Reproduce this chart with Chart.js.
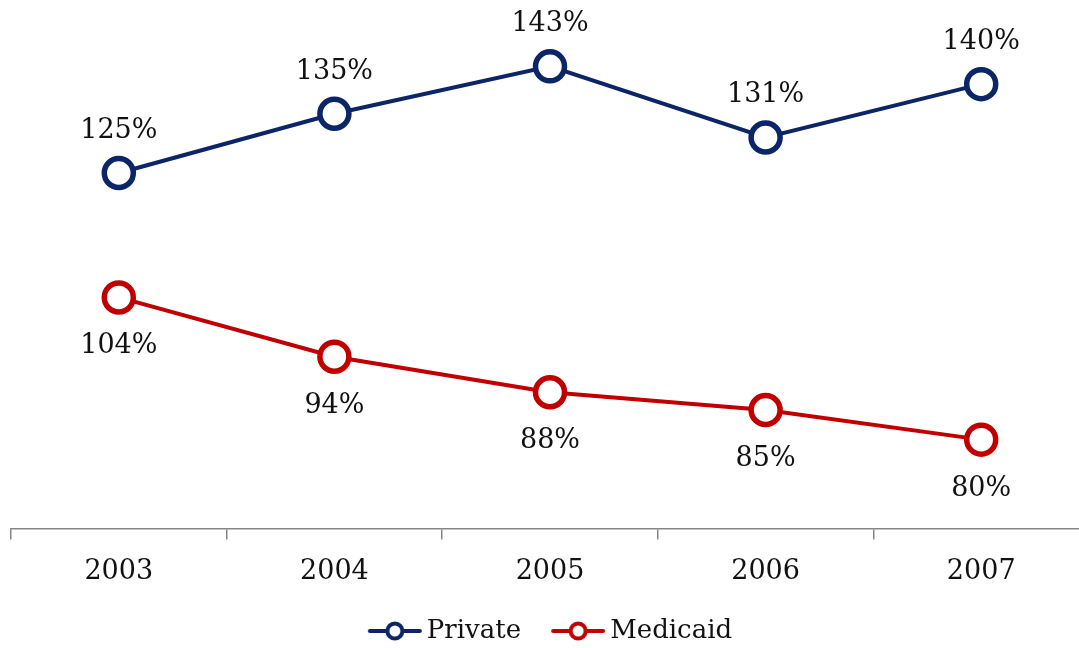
<!DOCTYPE html>
<html>
<head>
<meta charset="utf-8">
<script src="https://cdn.jsdelivr.net/npm/chart.js@4"></script>
<style>
html,body{margin:0;padding:0;background:#fff;overflow:hidden;}
#wrap{position:relative;width:1100px;height:648px;}
</style>
</head>
<body>
<div id="wrap"><canvas id="c" width="1100" height="648"></canvas></div>
<script>
const categories = ['2003', '2004', '2005', '2006', '2007'];
const privateValues = [125, 135, 143, 131, 140];
const medicaidValues = [104, 94, 88, 85, 80];
const seriesNames = ['Private', 'Medicaid'];

const NAVY = '#0b2566';
const RED = '#c00000';
const FONT = '"DejaVu Serif", serif';

function legendImage(color) {
  const c = document.createElement('canvas');
  c.width = 64; c.height = 26;
  const g = c.getContext('2d');
  g.strokeStyle = color;
  g.lineWidth = 4;
  g.lineCap = 'round';
  g.beginPath(); g.moveTo(11, 13); g.lineTo(61, 13); g.stroke();
  g.beginPath(); g.arc(36, 13, 7.5, 0, Math.PI * 2);
  g.fillStyle = '#fff'; g.fill();
  g.lineWidth = 4; g.stroke();
  return c;
}
const legendImgs = [legendImage(NAVY), legendImage(RED)];

const labelPlugin = {
  id: 'valueLabels',
  afterDatasetsDraw(chart) {
    const ctx = chart.ctx;
    ctx.save();
    ctx.font = '27px ' + FONT;
    ctx.fillStyle = '#111';
    ctx.textAlign = 'center';
    ctx.textBaseline = 'middle';
    chart.data.datasets.forEach((ds, i) => {
      const meta = chart.getDatasetMeta(i);
      meta.data.forEach((pt, j) => {
        const off = i === 0 ? -42 : 49;
        ctx.fillText(ds.data[j] + '%', pt.x, pt.y + off);
      });
    });
    ctx.restore();
  }
};

new Chart(document.getElementById('c'), {
  type: 'line',
  data: {
    labels: categories,
    datasets: [
      {
        label: seriesNames[0], data: privateValues,
        borderColor: NAVY, borderWidth: 4,
        pointBackgroundColor: '#fff', pointBorderColor: NAVY,
        pointBorderWidth: 5.5, pointRadius: 14.5, pointHoverRadius: 14.5,
        tension: 0
      },
      {
        label: seriesNames[1], data: medicaidValues,
        borderColor: RED, borderWidth: 4,
        pointBackgroundColor: '#fff', pointBorderColor: RED,
        pointBorderWidth: 5.5, pointRadius: 14.5, pointHoverRadius: 14.5,
        tension: 0
      }
    ]
  },
  options: {
    responsive: false,
    animation: false,
    events: [],
    layout: { autoPadding: false, padding: { left: 11, right: 11, top: 0, bottom: -6 } },
    scales: {
      x: {
        offset: true,
        grid: { offset: true, drawOnChartArea: false, tickLength: 11, color: '#868686', lineWidth: 1.5 },
        border: { color: '#868686', width: 1.5 },
        ticks: { color: '#111', font: { family: FONT, size: 27 }, padding: 16 },
        afterFit(scale) { scale.height = 59.5; }
      },
      y: { display: false, min: 65, max: 154.2 }
    },
    plugins: {
      tooltip: { enabled: false },
      legend: {
        position: 'bottom',
        labels: {
          usePointStyle: true,
          pointStyleWidth: 46,
          padding: 30,
          color: '#111',
          font: { family: FONT, size: 26 },
          generateLabels(chart) {
            return chart.data.datasets.map((ds, i) => ({
              text: ds.label,
              pointStyle: legendImgs[i],
              fillStyle: '#fff',
              strokeStyle: ds.borderColor,
              lineWidth: 0,
              datasetIndex: i,
              fontColor: '#111'
            }));
          }
        }
      }
    }
  },
  plugins: [labelPlugin]
});
</script>
</body>
</html>
